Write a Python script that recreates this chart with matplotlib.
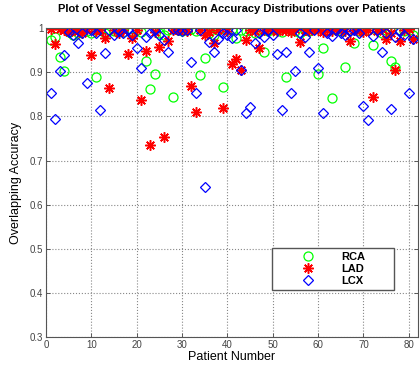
import numpy as np
import matplotlib
matplotlib.use('Agg')
import matplotlib.pyplot as plt

# patient ids 1..81
patients = list(range(1, 82))

rca = [0.973, 0.980, 0.935, 0.903, 0.992, 0.985, 0.990, 0.996, 0.993, 0.988,
       0.890, 0.995, 0.990, 0.997, 0.993, 0.996, 0.991, 0.998, 0.994, 0.996,
       0.992, 0.926, 0.862, 0.896, 0.990, 0.984, 0.995, 0.845, 0.997, 0.993,
       0.996, 0.999, 0.994, 0.895, 0.933, 0.990, 0.985, 0.996, 0.866, 0.995,
       0.998, 0.977, 0.996, 0.993, 0.995, 0.990, 0.997, 0.946, 0.993, 0.998,
       0.995, 0.992, 0.890, 0.997, 0.994, 0.990, 0.996, 0.993, 0.998, 0.897,
       0.956, 0.995, 0.841, 0.997, 0.993, 0.912, 0.996, 0.967, 0.994, 0.998,
       0.995, 0.961, 0.997, 0.990, 0.995, 0.926, 0.912, 0.997, 0.993, 0.996,
       0.985]

lad = [0.999, 0.965, 0.998, 0.996, 0.992, 0.997, 0.994, 0.990, 0.998, 0.939,
       0.993, 0.996, 0.977, 0.865, 0.995, 0.990, 0.997, 0.941, 0.977, 0.995,
       0.837, 0.949, 0.736, 0.992, 0.958, 0.754, 0.971, 0.997, 0.995, 0.998,
       0.993, 0.869, 0.810, 0.996, 0.984, 0.992, 0.967, 0.996, 0.820, 0.994,
       0.918, 0.931, 0.905, 0.973, 0.997, 0.993, 0.954, 0.995, 0.998, 0.996,
       0.993, 0.997, 0.995, 0.991, 0.998, 0.969, 0.996, 0.993, 0.998, 0.995,
       0.992, 0.997, 0.994, 0.998, 0.996, 0.993, 0.971, 0.995, 0.997, 0.992,
       0.996, 0.843, 0.994, 0.998, 0.975, 0.990, 0.906, 0.971, 0.996, 0.998,
       0.975]

lcx = [0.854, 0.794, 0.903, 0.940, 0.992, 0.985, 0.967, 0.990, 0.876, 0.995,
       0.990, 0.814, 0.943, 0.996, 0.985, 0.993, 0.990, 0.996, 0.985, 0.954,
       0.909, 0.979, 0.990, 0.996, 0.985, 0.973, 0.946, 0.998, 0.996, 0.993,
       0.997, 0.923, 0.854, 0.995, 0.639, 0.969, 0.946, 0.975, 0.990, 0.985,
       0.977, 0.996, 0.905, 0.807, 0.822, 0.967, 0.990, 0.979, 0.995, 0.985,
       0.941, 0.814, 0.945, 0.854, 0.903, 0.990, 0.980, 0.945, 0.996, 0.909,
       0.807, 0.990, 0.982, 0.996, 0.990, 0.985, 0.993, 0.996, 0.990, 0.823,
       0.793, 0.983, 0.995, 0.945, 0.990, 0.816, 0.980, 0.993, 0.985, 0.854,
       0.975]

x_ticks = [0, 10, 20, 30, 40, 50, 60, 70, 80]
y_ticks = [0.3, 0.4, 0.5, 0.6, 0.7, 0.8, 0.9, 1.0]
y_tick_labels = ['0.3', '0.4', '0.5', '0.6', '0.7', '0.8', '0.9', '1']

plt.rcParams['font.family'] = ['Liberation Sans', 'DejaVu Sans']

fig = plt.figure(figsize=(4.2, 3.66), dpi=100)
ax = fig.add_axes([0.1095, 0.079, 0.8855, 0.844])

ax.plot(patients, rca, linestyle='none', marker='o', markersize=6.5,
        markerfacecolor='none', markeredgecolor='#00ff00', markeredgewidth=0.9, label='RCA')
ax.plot(patients, lad, linestyle='none', marker=(8, 2, 0), markersize=7.5,
        markeredgecolor='#ff0000', color='#ff0000', markeredgewidth=1.1, label='LAD')
ax.plot(patients, lcx, linestyle='none', marker='D', markersize=5.2,
        markerfacecolor='none', markeredgecolor='#0000ff', markeredgewidth=0.9, label='LCX')

ax.set_xlim(0, 82)
ax.set_ylim(0.3, 1.0)
ax.set_xticks(x_ticks)
ax.set_yticks(y_ticks)
ax.set_yticklabels(y_tick_labels)
ax.tick_params(direction='in', length=3, labelsize=7, colors='#444444',
               top=True, right=True, width=0.6, pad=2)
ax.grid(True, linestyle=':', color='#888888', linewidth=0.8)
for sp in ax.spines.values():
    sp.set_color('#555555')
    sp.set_linewidth(0.8)

ax.set_title('Plot of Vessel Segmentation Accuracy Distributions over Patients',
             fontsize=8, fontweight='bold', pad=12)
ax.set_xlabel('Patient Number', fontsize=9, labelpad=1)
ax.set_ylabel('Overlapping Accuracy', fontsize=9)
ax.yaxis.set_label_coords(-0.065, 0.5)

leg = ax.legend(loc='lower left', bbox_to_anchor=(0.6075, 0.152, 0.328, 0.142),
                mode='expand', fontsize=8, fancybox=False, frameon=True,
                borderaxespad=0, handletextpad=0.1, borderpad=0.35,
                labelspacing=0.2, handlelength=5.8)
leg.get_frame().set_edgecolor('#555555')
leg.get_frame().set_linewidth(1.0)
leg.get_frame().set_alpha(1)
for t in leg.get_texts():
    t.set_fontweight('bold')

fig.savefig('out.png', dpi=100)
